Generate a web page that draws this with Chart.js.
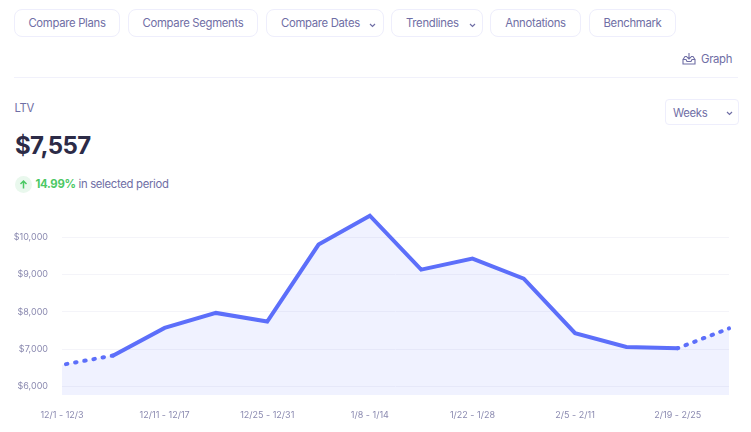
<!DOCTYPE html>
<html>
<head>
<meta charset="utf-8">
<script src="https://cdn.jsdelivr.net/npm/chart.js@4"></script>
<style>
  html, body { margin: 0; padding: 0; background: #fff; }
  body { width: 751px; height: 432px; position: relative; overflow: hidden; font-family: Inter, sans-serif; color: #6f6ea5; }
  .abs { position: absolute; white-space: nowrap; }
  .ui { font-size: 11.3px; letter-spacing: -0.3px; }
  .btn { position: absolute; top: 9px; height: 26px; line-height: 27px; border: 1px solid #eeeefc; border-radius: 8px; text-align: center; box-sizing: content-box; }
  .chev { position: absolute; width: 7px; height: 5px; }
  #wrap { position: absolute; left: 0; top: 200px; width: 751px; height: 232px; }
</style>
</head>
<body>
<div class="btn ui" style="left:14px;width:104px">Compare Plans</div>
<div class="btn ui" style="left:128px;width:128px">Compare Segments</div>
<div class="btn ui" style="left:266px;width:116px;text-align:left"><span style="margin-left:14px">Compare Dates</span></div>
<div class="btn ui" style="left:391px;width:90px;text-align:left"><span style="margin-left:14px">Trendlines</span></div>
<div class="btn ui" style="left:490px;width:89px">Annotations</div>
<div class="btn ui" style="left:589px;width:85px">Benchmark</div>
<svg class="chev" style="left:369px;top:23px" viewBox="0 0 7 5"><path d="M1 1l2.5 2.5L6 1" fill="none" stroke="#6f6ea5" stroke-width="1.2"/></svg>
<svg class="chev" style="left:469px;top:23px" viewBox="0 0 7 5"><path d="M1 1l2.5 2.5L6 1" fill="none" stroke="#6f6ea5" stroke-width="1.2"/></svg>

<svg class="abs" style="left:682px;top:52px" width="14" height="13" viewBox="0 0 14 13"><path d="M1 7.500h3l1 2h4l1-2h3v4.500H1zM1 7.500l2-3h2M13 7.500l-2-3H9M7 1v6M4.800 4.800L7 7l2.200-2.200" fill="none" stroke="#6f6ea5" stroke-width="1.100"/></svg>
<div class="abs ui" style="left:701px;top:51px;line-height:16px">Graph</div>
<div class="abs" style="left:14px;top:77px;width:724px;height:1px;background:#f1f1fb"></div>

<div class="abs ui" style="left:14.500px;top:101px;line-height:15px">LTV</div>
<div class="abs" style="left:665px;top:99px;width:72px;height:24px;border:1px solid #eeeefc;border-radius:4px"></div>
<div class="abs ui" style="left:673px;top:105px;line-height:16px">Weeks</div>
<svg class="chev" style="left:726px;top:111px" viewBox="0 0 7 5"><path d="M1 1l2.500 2.500L6 1" fill="none" stroke="#6f6ea5" stroke-width="1.200"/></svg>

<div class="abs" style="left:15px;top:130px;font-size:24px;letter-spacing:-0.6px;line-height:32px;font-weight:700;color:#2c2b47">$7,557</div>
<svg class="abs" style="left:15px;top:176px" width="17" height="17" viewBox="0 0 17 17"><circle cx="8.500" cy="8.500" r="8.500" fill="#e9f8ed"/><path d="M8.500 12.500V5M5.500 8l3-3 3 3" fill="none" stroke="#4cc864" stroke-width="1.500"/></svg>
<div class="abs ui" style="left:35.500px;top:176px;line-height:16px"><b style="color:#4cc864;font-weight:700">14.99%</b> in selected period</div>

<div id="wrap"><canvas id="ltv" width="751" height="232"></canvas></div>

<script>
const categories = ["12/1 - 12/3", "12/4 - 12/10", "12/11 - 12/17", "12/18 - 12/24", "12/25 - 12/31", "1/1 - 1/7", "1/8 - 1/14", "1/15 - 1/21", "1/22 - 1/28", "1/29 - 2/4", "2/5 - 2/11", "2/12 - 2/18", "2/19 - 2/25", "2/26 - 2/29"];
const ltvValues = [6580, 6830, 7571, 7973, 7740, 9804, 10580, 9134, 9429, 8893, 7429, 7060, 7027, 7557];
const yTicks = [6000, 7000, 8000, 9000, 10000];
const partialSegments = [0, 12];

const isPartial = (ctx) => partialSegments.includes(ctx.p0DataIndex);
const tickFont = { family: "Inter", size: 9 };

new Chart(document.getElementById("ltv"), {
  type: "line",
  data: {
    labels: categories,
    datasets: [
      // fill on its own so the dotted segments leave no seams in it
      {
        data: ltvValues,
        borderWidth: 0,
        backgroundColor: "rgba(93, 111, 250, 0.09)",
        fill: "start",
        pointRadius: 0,
        tension: 0,
      },
      {
        data: ltvValues,
        borderColor: "#5d6ffa",
        borderWidth: 4,
        fill: false,
        pointRadius: 0,
        tension: 0,
        borderCapStyle: "round",
        borderJoinStyle: "miter",
        segment: {
          borderDash: (ctx) => (isPartial(ctx) ? [1.5, 7.8] : undefined),
          borderDashOffset: (ctx) => (isPartial(ctx) ? (ctx.p0DataIndex === 0 ? -4 : -8.4) : 0),
        },
      },
    ],
  },
  options: {
    responsive: false,
    animation: false,
    layout: { padding: { top: 5, right: 22, left: 0, bottom: 0 } },
    plugins: {
      legend: { display: false },
      tooltip: { enabled: false },
    },
    scales: {
      x: {
        offset: false,
        border: { display: false },
        grid: { display: false },
        afterFit: (scale) => {
          scale.height = 37;
        },
        ticks: {
          color: "#8b8ab0",
          font: tickFont,
          padding: 7,
          maxRotation: 0,
          autoSkip: true,
          maxTicksLimit: 7,
        },
      },
      y: {
        min: 5772,
        max: 10866,
        border: { display: false },
        grid: { color: "#f4f4f9", drawTicks: false },
        afterBuildTicks: (scale) => {
          scale.ticks = yTicks.map((value) => ({ value }));
        },
        afterFit: (scale) => {
          scale.width = 62;
          scale.paddingTop = 5;
          scale.paddingBottom = 5;
        },
        ticks: {
          color: "#8b8ab0",
          font: tickFont,
          padding: 14,
          callback: (value) => "$" + value.toLocaleString("en-US"),
        },
      },
    },
  },
});
</script>
</body>
</html>
